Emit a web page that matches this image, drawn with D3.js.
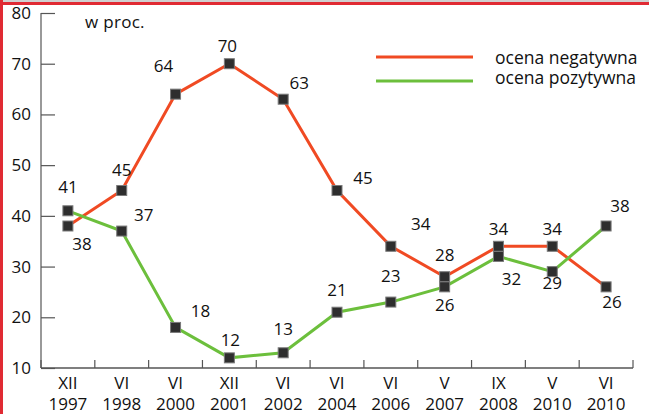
<!DOCTYPE html>
<html>
<head>
<meta charset="utf-8">
<script src="https://cdn.jsdelivr.net/npm/d3@7"></script>
<style>
  body { margin: 0; background: #fff; }
  svg { display: block; font-family: "Open Sans", sans-serif; }
</style>
</head>
<body>
<div id="chart"></div>
<script>
// dane
var months = ['XII', 'VI', 'VI', 'XII', 'VI', 'VI', 'VI', 'V', 'IX', 'V', 'VI'];
var years = ['1997', '1998', '2000', '2001', '2002', '2004', '2006', '2007', '2008', '2010', '2010'];
var negatywna = [38, 45, 64, 70, 63, 45, 34, 28, 34, 34, 26];
var pozytywna = [41, 37, 18, 12, 13, 21, 23, 26, 32, 29, 38];
var yTicks = [10, 20, 30, 40, 50, 60, 70, 80];

// przesuniecia etykiet (dx, dy) wzgledem punktu
var negOffsets = [[14, 24], [0, -15], [-12, -22], [-2, -12], [16, -10], [26, -7], [30, -16], [0, -16], [0, -11], [0, -11], [6, 21]];
var pozOffsets = [[0, -18], [22, -10], [25, -10], [1, -12], [0, -18], [0, -16], [0, -20], [0, 24], [13, 29], [0, 17], [14, -14]];

var width = 649;
var height = 414;
var mLeft = 41, mRight = 633, mTop = 13, mBottom = 368;
var fs = 17;

var svg = d3.select('#chart')
    .append('svg')
    .attr('width', width)
    .attr('height', height);

// ramka
svg.append('rect').attr('x', 0).attr('y', 0).attr('width', width).attr('height', 2).attr('fill', '#d0d0d0');
svg.append('rect').attr('x', 0).attr('y', 2).attr('width', width).attr('height', 3).attr('fill', '#e02a33');
svg.append('rect').attr('x', 0).attr('y', 0).attr('width', 3).attr('height', height).attr('fill', '#e02a33');

var idx = d3.range(months.length);

var x = d3.scaleBand()
    .domain(idx)
    .range([mLeft, mRight]);

var y = d3.scaleLinear()
    .domain([10, 80])
    .range([mBottom, mTop]);

// os Y
var yAxis = svg.append('g')
    .attr('transform', 'translate(' + mLeft + ',0)')
    .call(d3.axisRight(y).tickValues(yTicks).tickSize(14).tickFormat(''));
yAxis.select('.domain').attr('stroke', '#777').attr('stroke-width', 1.5).attr('d', 'M0,' + mTop + 'V' + mBottom);
yAxis.selectAll('.tick line').attr('stroke', '#555').attr('stroke-width', 1.2);

svg.selectAll('.ylab')
    .data(yTicks)
    .enter()
    .append('text')
    .attr('x', 31)
    .attr('y', function (d) { return y(d) + 6; })
    .attr('text-anchor', 'end')
    .attr('font-size', fs)
    .attr('fill', '#111')
    .text(function (d) { return d; });

// os X
svg.append('line')
    .attr('x1', mLeft).attr('x2', mRight)
    .attr('y1', mBottom).attr('y2', mBottom)
    .attr('stroke', '#555').attr('stroke-width', 1.5);

svg.selectAll('.xtick')
    .data(d3.range(months.length + 1))
    .enter()
    .append('line')
    .attr('x1', function (d) { return mLeft + d * x.step(); })
    .attr('x2', function (d) { return mLeft + d * x.step(); })
    .attr('y1', mBottom)
    .attr('y2', mBottom - 8)
    .attr('stroke', '#555')
    .attr('stroke-width', 1.2);

var xl = svg.selectAll('.xlab')
    .data(idx)
    .enter()
    .append('text')
    .attr('text-anchor', 'middle')
    .attr('font-size', fs)
    .attr('fill', '#111');
xl.append('tspan')
    .attr('x', function (d) { return x(d) + x.bandwidth() / 2; })
    .attr('y', 389)
    .text(function (d) { return months[d]; });
xl.append('tspan')
    .attr('x', function (d) { return x(d) + x.bandwidth() / 2; })
    .attr('y', 410)
    .text(function (d) { return years[d]; });

svg.append('text')
    .attr('x', 85).attr('y', 28)
    .attr('font-size', 17)
    .attr('letter-spacing', 0.3)
    .attr('fill', '#111')
    .text('w proc.');

var cx = function (i) { return x(i) + x.bandwidth() / 2; };

var line = d3.line()
    .x(function (d, i) { return cx(i); })
    .y(function (d) { return y(d); });

var series = [
    { values: negatywna, color: '#f04a23', offsets: negOffsets },
    { values: pozytywna, color: '#6cbf3c', offsets: pozOffsets }
];

series.forEach(function (s) {
    svg.append('path')
        .datum(s.values)
        .attr('d', line)
        .attr('fill', 'none')
        .attr('stroke', s.color)
        .attr('stroke-width', 3);
});

series.forEach(function (s) {
    svg.selectAll(null)
        .data(s.values)
        .enter()
        .append('rect')
        .attr('x', function (d, i) { return cx(i) - 5; })
        .attr('y', function (d) { return y(d) - 5; })
        .attr('width', 10)
        .attr('height', 10)
        .attr('fill', '#2e2e2e')
        .attr('stroke', '#7a7a7a')
        .attr('stroke-width', 1);

    svg.selectAll(null)
        .data(s.values)
        .enter()
        .append('text')
        .attr('x', function (d, i) { return cx(i) + s.offsets[i][0]; })
        .attr('y', function (d, i) { return y(d) + s.offsets[i][1]; })
        .attr('text-anchor', 'middle')
        .attr('font-size', fs)
        .attr('fill', '#111')
        .text(function (d) { return d; });
});

// legenda
var legend = [
    { name: 'ocena negatywna', color: '#f04a23', y: 57, ty: 64 },
    { name: 'ocena pozytywna', color: '#6cbf3c', y: 81, ty: 84 }
];
legend.forEach(function (l) {
    svg.append('line')
        .attr('x1', 376).attr('x2', 473)
        .attr('y1', l.y).attr('y2', l.y)
        .attr('stroke', l.color)
        .attr('stroke-width', 3);
    svg.append('text')
        .attr('x', 495)
        .attr('y', l.ty)
        .attr('font-size', 17.5)
        .attr('fill', '#111')
        .text(l.name);
});
</script>
</body>
</html>
